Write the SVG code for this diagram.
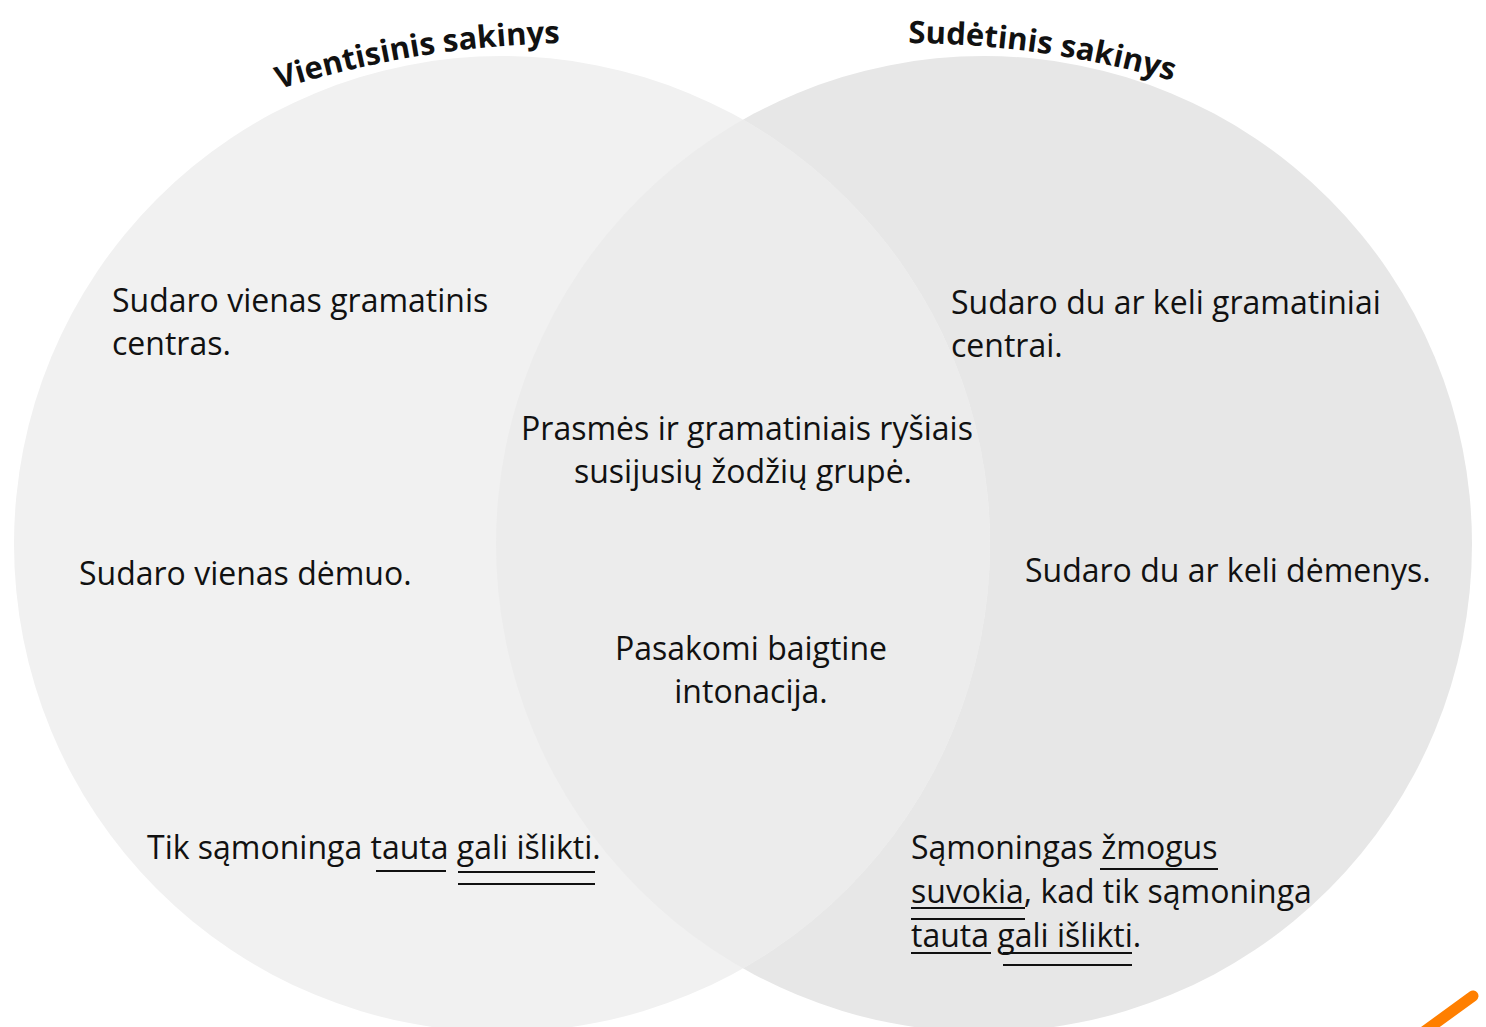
<svg xmlns="http://www.w3.org/2000/svg" width="1486" height="1027" viewBox="0 0 1486 1027">
<style>
.t{font-family:"Open Sans","Liberation Sans",sans-serif;font-size:32px;fill:#111}
.h{font-family:"Open Sans","Liberation Sans",sans-serif;font-size:31px;font-weight:bold;fill:#111}
.c{text-anchor:middle}
.u{stroke:#111;stroke-width:2;fill:none}
</style>
<defs>
<clipPath id="clipL"><circle cx="502" cy="544" r="488"/></clipPath>
<path id="arcL" d="M 200 118 A 1000 1000 0 0 1 960 118"/>
<path id="arcR" d="M 680 67.5 A 1000 1000 0 0 1 1400 177"/>
</defs>
<rect width="1486" height="1027" fill="#ffffff"/>
<g id="circle-right"><circle cx="984" cy="544" r="488" fill="#e7e7e7"/></g>
<g id="circle-left"><circle cx="502" cy="544" r="488" fill="#f1f1f1"/></g>
<g id="overlap"><circle cx="984" cy="544" r="488" fill="#ececec" clip-path="url(#clipL)"/></g>
<g id="title-left"><text class="h"><textPath href="#arcL" startOffset="84">Vientisinis sakinys</textPath></text></g>
<g id="title-right"><text class="h"><textPath href="#arcR" startOffset="230">Sudėtinis sakinys</textPath></text></g>
<g id="left-1"><text class="t" x="112" y="312">Sudaro vienas gramatinis</text><text class="t" x="112" y="355">centras.</text></g>
<g id="left-2"><text class="t" x="79" y="585">Sudaro vienas dėmuo.</text></g>
<g id="left-3"><text class="t" x="147" y="859">Tik sąmoninga tauta gali išlikti.</text>
<line class="u" x1="376" y1="871" x2="446" y2="871"/><line class="u" x1="458" y1="872" x2="595" y2="872"/><line class="u" x1="458" y1="884" x2="595" y2="884"/></g>
<g id="mid-1"><text class="t c" x="747" y="440">Prasmės ir gramatiniais ryšiais</text><text class="t c" x="743" y="483">susijusių žodžių grupė.</text></g>
<g id="mid-2"><text class="t c" x="751" y="660">Pasakomi baigtine</text><text class="t c" x="751" y="703">intonacija.</text></g>
<g id="right-1"><text class="t" x="951" y="314">Sudaro du ar keli gramatiniai</text><text class="t" x="951" y="357">centrai.</text></g>
<g id="right-2"><text class="t" x="1025" y="582">Sudaro du ar keli dėmenys.</text></g>
<g id="right-3"><text class="t" x="911" y="859">Sąmoningas žmogus</text><text class="t" x="911" y="903">suvokia, kad tik sąmoninga</text><text class="t" x="911" y="947">tauta gali išlikti.</text>
<line class="u" x1="1100" y1="869" x2="1218" y2="869"/>
<line class="u" x1="911" y1="908" x2="1025" y2="908"/><line class="u" x1="911" y1="919" x2="1025" y2="919"/>
<line class="u" x1="911" y1="953" x2="991" y2="953"/>
<line class="u" x1="1003" y1="953" x2="1132" y2="953"/><line class="u" x1="1003" y1="965" x2="1132" y2="965"/></g>
<g id="accent"><line x1="1473" y1="996" x2="1418" y2="1036" stroke="#ff7f00" stroke-width="11" stroke-linecap="round"/></g>
</svg>
